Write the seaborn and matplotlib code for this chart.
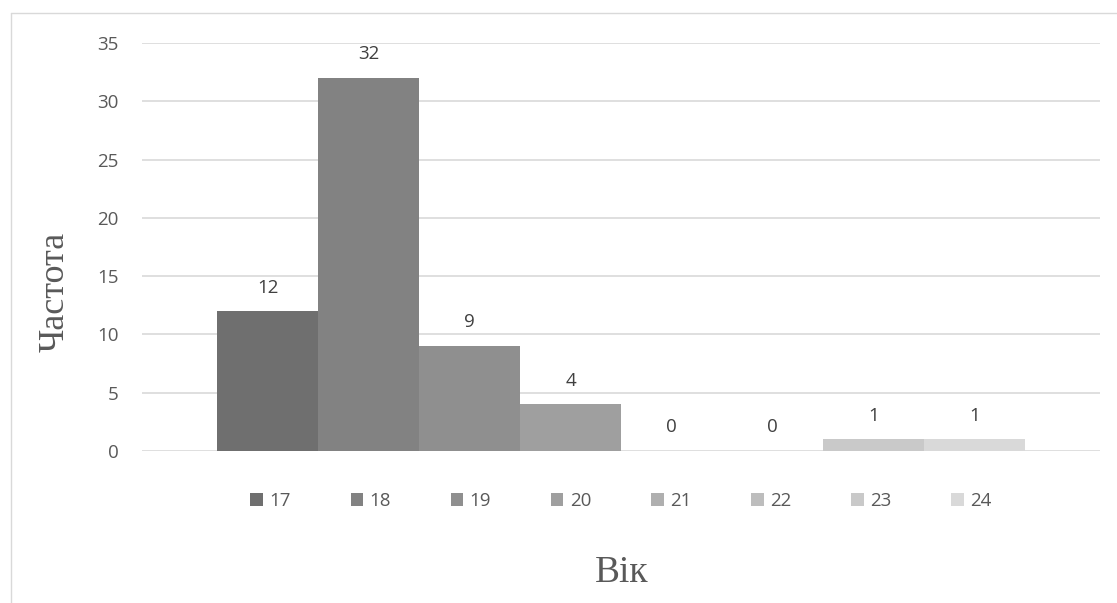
import matplotlib
matplotlib.use("Agg")
import matplotlib.pyplot as plt
from matplotlib.lines import Line2D
import seaborn as sns
import pandas as pd

# Age distribution (frequency per age)
ages = ["17", "18", "19", "20", "21", "22", "23", "24"]
counts = [12, 32, 9, 4, 0, 0, 1, 1]
shades = ["#6f6f6f", "#828282", "#8f8f8f", "#9f9f9f",
          "#afafaf", "#bdbdbd", "#c9c9c9", "#d9d9d9"]

y_ticks = [0, 5, 10, 15, 20, 25, 30, 35]
y_title = "Частота"
x_title = "Вік"

df = pd.DataFrame({"age": ages, "count": counts})

sns.set_theme(style="white")
plt.rcParams["font.family"] = ["Open Sans", "DejaVu Sans"]

W, H = 1117, 603
fig = plt.figure(figsize=(W / 100, H / 100), dpi=100)
ax = fig.add_axes([142 / W, 1 - 451 / H, (1100 - 142) / W, (451 - 43) / H])

sns.barplot(data=df, x="age", y="count", hue="age", palette=shades,
            width=1.0, dodge=False, saturation=1, ax=ax, legend=True,
            linewidth=0)

ax.set_ylim(0, 35)
ax.set_xlim(-1.243, 8.243)
ax.set_yticks(y_ticks)
ax.yaxis.grid(True, color="#d9d9d9", linewidth=1.2)
ax.set_axisbelow(True)
for s in ax.spines.values():
    s.set_visible(False)
ax.set_xticks([])
ax.set_xlabel("")
ax.set_ylabel("")
ax.tick_params(axis="y", length=0, pad=17, labelsize=13.5, labelcolor="#595959")

# value labels above each bar
for i, v in enumerate(counts):
    ax.annotate(str(v), (i, v), xytext=(0, 17), textcoords="offset points",
                ha="center", va="center", fontsize=13.5, color="#404040")

sns.move_legend(ax, "center", bbox_to_anchor=(0.5, -0.123), ncol=8,
                frameon=False, title=None, fontsize=13.5,
                handlelength=0.65, handleheight=0.65, handletextpad=0.35,
                columnspacing=3.2, labelcolor="#595959")

# axis titles in serif
fig.text(55 / W, 1 - 292 / H, y_title, rotation=90, ha="center", va="center",
         fontsize=26, color="#595959", family="Liberation Serif")
fig.text(622 / W, 1 - 573 / H, x_title, ha="center", va="center",
         fontsize=27, color="#595959", family="Liberation Serif")

# chart area border (top and left edges)
fig.add_artist(Line2D([10.5 / W, 10.5 / W], [1 - 12.5 / H, 0],
                      transform=fig.transFigure, color="#d9d9d9", linewidth=1))
fig.add_artist(Line2D([10.5 / W, 1], [1 - 12.5 / H, 1 - 12.5 / H],
                      transform=fig.transFigure, color="#d9d9d9", linewidth=1))

fig.savefig("out.png", dpi=100, facecolor="white")
